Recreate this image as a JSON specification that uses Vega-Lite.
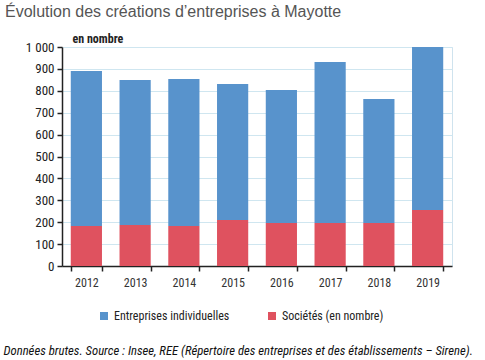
{
  "$schema": "https://vega.github.io/schema/vega-lite/v6.json",
  "width": 390,
  "height": 219,
  "autosize": {"type": "none"},
  "padding": {"left": 62, "top": 47, "right": 33, "bottom": 94},
  "background": "white",
  "config": {
    "font": "Liberation Sans Narrow, Roboto Condensed, Liberation Sans",
    "view": {"stroke": "#cfe3ee", "strokeWidth": 1}
  },
  "title": {
    "text": "Évolution des créations d’entreprises à Mayotte",
    "anchor": "start",
    "frame": "group",
    "dx": -57,
    "fontSize": 16,
    "fontWeight": "normal",
    "color": "#555555",
    "font": "Liberation Sans",
    "offset": 12
  },
  "data": {
    "values": [
      {"annee": "2012", "type": "Entreprises individuelles", "n": 707},
      {"annee": "2013", "type": "Entreprises individuelles", "n": 662},
      {"annee": "2014", "type": "Entreprises individuelles", "n": 671},
      {"annee": "2015", "type": "Entreprises individuelles", "n": 621},
      {"annee": "2016", "type": "Entreprises individuelles", "n": 608},
      {"annee": "2017", "type": "Entreprises individuelles", "n": 735},
      {"annee": "2018", "type": "Entreprises individuelles", "n": 567},
      {"annee": "2019", "type": "Entreprises individuelles", "n": 744},
      {"annee": "2012", "type": "Sociétés (en nombre)", "n": 183},
      {"annee": "2013", "type": "Sociétés (en nombre)", "n": 187},
      {"annee": "2014", "type": "Sociétés (en nombre)", "n": 183},
      {"annee": "2015", "type": "Sociétés (en nombre)", "n": 210},
      {"annee": "2016", "type": "Sociétés (en nombre)", "n": 196},
      {"annee": "2017", "type": "Sociétés (en nombre)", "n": 196},
      {"annee": "2018", "type": "Sociétés (en nombre)", "n": 196},
      {"annee": "2019", "type": "Sociétés (en nombre)", "n": 256}
    ]
  },
  "mark": {"type": "bar"},
  "encoding": {
    "x": {
      "field": "annee",
      "type": "ordinal",
      "scale": {"paddingInner": 0.36, "paddingOuter": 0.18},
      "axis": {
        "title": "Données brutes. Source : Insee, REE (Répertoire des entreprises et des établissements – Sirene).",
        "titleFontStyle": "italic",
        "titleFontWeight": "normal",
        "titleFontSize": 12.7,
        "titleColor": "#111111",
        "titleAnchor": "start",
        "titleAlign": "left",
        "titleBaseline": "alphabetic",
        "titleX": -59,
        "titleY": 88,
        "labelAngle": 0,
        "labelFontSize": 12,
        "labelColor": "#333333",
        "labelPadding": 6,
        "domainColor": "#222222",
        "domainWidth": 1.5,
        "tickColor": "#222222",
        "tickWidth": 1.5,
        "tickSize": 5,
        "tickBand": "extent",
        "grid": false
      }
    },
    "y": {
      "field": "n",
      "type": "quantitative",
      "stack": "zero",
      "scale": {"domain": [0, 1000], "nice": false},
      "axis": {
        "values": [0, 100, 200, 300, 400, 500, 600, 700, 800, 900, 1000],
        "labelExpr": "datum.value == 1000 ? '1 000' : datum.label",
        "labelFontSize": 13,
        "labelColor": "#222222",
        "labelPadding": 3,
        "domainColor": "#222222",
        "domainWidth": 1.5,
        "tickColor": "#222222",
        "tickWidth": 1.5,
        "tickSize": 5,
        "gridColor": "#cfe6f0",
        "gridWidth": 1,
        "title": "en nombre",
        "titleAngle": 0,
        "titleAlign": "left",
        "titleBaseline": "alphabetic",
        "titleX": 10,
        "titleY": -5,
        "titleFontSize": 12,
        "titleFontWeight": "bold",
        "titleColor": "#222222"
      }
    },
    "color": {
      "field": "type",
      "type": "nominal",
      "scale": {
        "domain": ["Entreprises individuelles", "Sociétés (en nombre)"],
        "range": ["#5893cc", "#df525f"]
      },
      "legend": {
        "title": null,
        "orient": "none",
        "direction": "horizontal",
        "legendX": 36,
        "legendY": 263,
        "symbolType": "square",
        "symbolSize": 64,
        "symbolStrokeWidth": 0,
        "labelFontSize": 12,
        "labelColor": "#222222",
        "columnPadding": 36
      }
    },
    "order": {"field": "type", "sort": "descending"}
  }
}
